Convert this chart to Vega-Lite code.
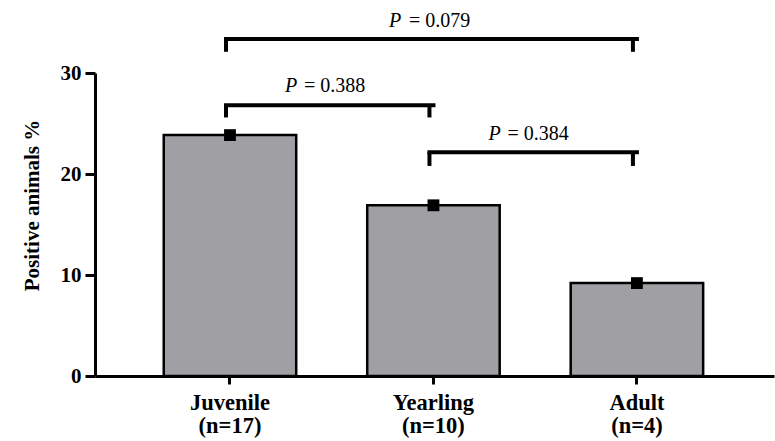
{
  "$schema": "https://vega.github.io/schema/vega-lite/v6.json",
  "width": 679,
  "height": 303,
  "autosize": {"type": "none"},
  "padding": {"left": 95, "top": 73, "right": 1, "bottom": 65},
  "background": "white",
  "config": {"view": {"stroke": null}, "font": "Liberation Serif, Times New Roman, serif"},
  "datasets": {
    "bars": [
      {"group": "Juvenile\n(n=17)", "pct": 23.85},
      {"group": "Yearling\n(n=10)", "pct": 16.9},
      {"group": "Adult\n(n=4)", "pct": 9.2}
    ],
    "brackets": [
      {"from": "Juvenile\n(n=17)", "to": "Adult\n(n=4)", "y": 33.37, "ytick": 32.1, "ytext": 34.55, "label": "= 0.079", "span": "wide"},
      {"from": "Juvenile\n(n=17)", "to": "Yearling\n(n=10)", "y": 26.8, "ytick": 25.6, "ytext": 28.1, "label": "= 0.388", "span": "adjacent"},
      {"from": "Yearling\n(n=10)", "to": "Adult\n(n=4)", "y": 22.15, "ytick": 20.8, "ytext": 23.4, "label": "= 0.384", "span": "adjacent"}
    ]
  },
  "encoding": {
    "x": {
      "field": "group",
      "type": "nominal",
      "sort": null,
      "scale": {
        "domain": ["Juvenile\n(n=17)", "Yearling\n(n=10)", "Adult\n(n=4)"],
        "paddingInner": 0.349,
        "paddingOuter": 0.343,
        "align": 0.4925
      },
      "axis": {
        "title": null,
        "labelAngle": 0,
        "labelExpr": "split(datum.label, '\\n')",
        "labelFont": "Liberation Serif, Times New Roman, serif",
        "labelFontSize": 22.5,
        "labelFontWeight": "bold",
        "labelColor": "black",
        "labelLineHeight": 23,
        "labelPadding": 7,
        "domainColor": "black",
        "domainWidth": 3,
        "tickColor": "black",
        "tickWidth": 3,
        "tickSize": 8
      }
    },
    "y": {
      "field": "pct",
      "type": "quantitative",
      "scale": {"domain": [0, 30], "nice": false, "zero": true},
      "axis": {
        "values": [0, 10, 20, 30],
        "grid": false,
        "title": "Positive animals %",
        "titleFont": "Liberation Serif, Times New Roman, serif",
        "titleFontSize": 21,
        "titleFontWeight": "bold",
        "titleColor": "black",
        "titlePadding": 18,
        "titleY": 132,
        "labelFont": "Liberation Serif, Times New Roman, serif",
        "labelFontSize": 21,
        "labelFontWeight": "bold",
        "labelColor": "black",
        "labelPadding": 4,
        "domainColor": "black",
        "domainWidth": 3,
        "tickColor": "black",
        "tickWidth": 3,
        "tickSize": 10
      }
    }
  },
  "layer": [
    {
      "data": {"name": "bars"},
      "mark": {"type": "bar", "fill": "#a0a0a4", "stroke": "black", "strokeWidth": 2.5}
    },
    {
      "data": {"name": "bars"},
      "mark": {"type": "point", "shape": "square", "filled": true, "color": "black", "size": 140, "opacity": 1}
    },
    {
      "data": {"name": "brackets"},
      "mark": {"type": "rule", "color": "black", "strokeWidth": 4, "strokeCap": "square", "xOffset": -4},
      "encoding": {
        "x": {"field": "from", "type": "nominal"},
        "x2": {"field": "to"},
        "y": {"field": "y", "type": "quantitative"}
      }
    },
    {
      "data": {"name": "brackets"},
      "transform": [{"fold": ["from", "to"], "as": ["end", "cat"]}],
      "mark": {"type": "rule", "color": "black", "strokeWidth": 4, "xOffset": -4},
      "encoding": {
        "x": {"field": "cat", "type": "nominal"},
        "y": {"field": "y", "type": "quantitative"},
        "y2": {"field": "ytick"}
      }
    },
    {
      "data": {"name": "brackets"},
      "transform": [{"filter": "datum.span == 'wide'"}],
      "mark": {"type": "text", "text": "P", "fontStyle": "italic", "font": "Liberation Serif, Times New Roman, serif", "fontSize": 20, "align": "left", "baseline": "alphabetic", "dx": 159, "color": "black"},
      "encoding": {
        "x": {"field": "from", "type": "nominal"},
        "y": {"field": "ytext", "type": "quantitative"}
      }
    },
    {
      "data": {"name": "brackets"},
      "transform": [{"filter": "datum.span == 'wide'"}],
      "mark": {"type": "text", "font": "Liberation Serif, Times New Roman, serif", "fontSize": 20, "align": "left", "baseline": "alphabetic", "dx": 179, "color": "black"},
      "encoding": {
        "x": {"field": "from", "type": "nominal"},
        "y": {"field": "ytext", "type": "quantitative"},
        "text": {"field": "label"}
      }
    },
    {
      "data": {"name": "brackets"},
      "transform": [{"filter": "datum.span == 'adjacent'"}],
      "mark": {"type": "text", "text": "P", "fontStyle": "italic", "font": "Liberation Serif, Times New Roman, serif", "fontSize": 20, "align": "left", "baseline": "alphabetic", "dx": 55, "color": "black"},
      "encoding": {
        "x": {"field": "from", "type": "nominal"},
        "y": {"field": "ytext", "type": "quantitative"}
      }
    },
    {
      "data": {"name": "brackets"},
      "transform": [{"filter": "datum.span == 'adjacent'"}],
      "mark": {"type": "text", "font": "Liberation Serif, Times New Roman, serif", "fontSize": 20, "align": "left", "baseline": "alphabetic", "dx": 74, "color": "black"},
      "encoding": {
        "x": {"field": "from", "type": "nominal"},
        "y": {"field": "ytext", "type": "quantitative"},
        "text": {"field": "label"}
      }
    }
  ]
}
